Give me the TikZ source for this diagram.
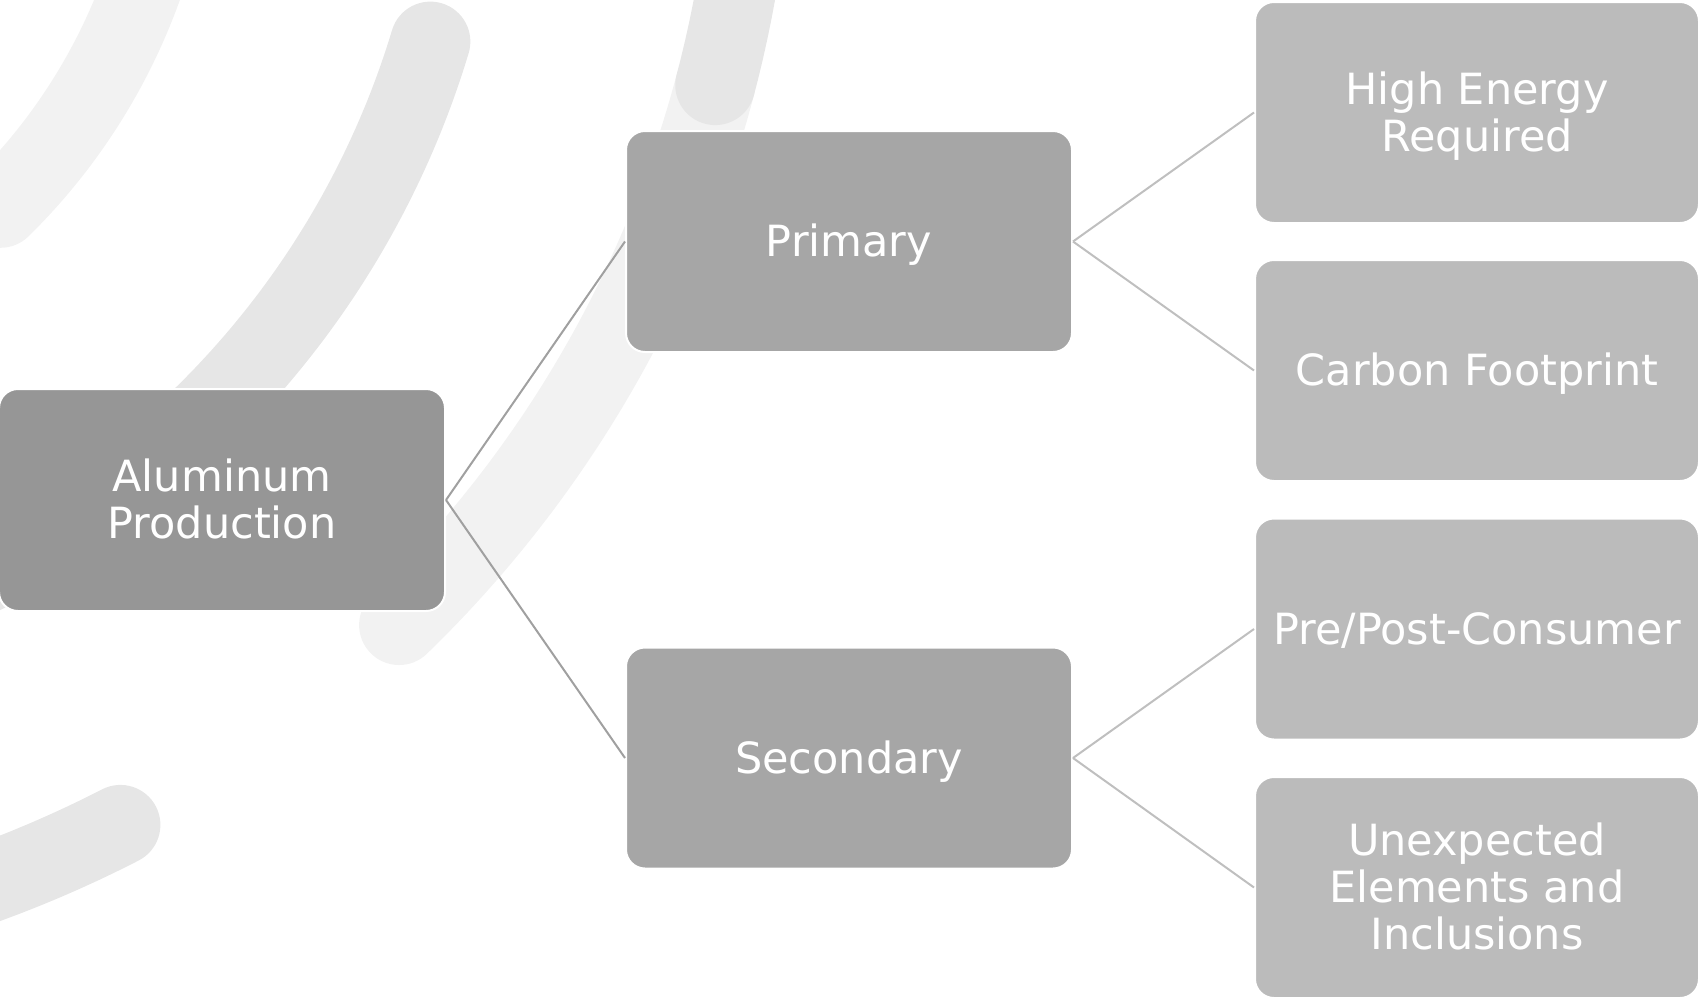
\documentclass[tikz,border=0pt]{standalone}
\usepackage{fontspec}
\setmainfont{DejaVu Sans}
\definecolor{arcLight}{HTML}{F2F2F2}
\definecolor{arcDark}{HTML}{E6E6E6}
\definecolor{rootFill}{HTML}{969696}
\definecolor{midFill}{HTML}{A6A6A6}
\definecolor{leafFill}{HTML}{BBBBBB}
\definecolor{lineA}{HTML}{A0A0A0}
\definecolor{lineB}{HTML}{BFBFBF}
\newcommand{\lowtext}[1]{\raisebox{-6pt}[\height][\depth]{\begin{tabular}{@{}c@{}}#1\end{tabular}}}
\tikzset{
  band/.style={line width=80pt, line cap=round},
  boxbase/.style={rectangle, rounded corners=19pt, draw=white, line width=2pt,
    text=white, align=center, inner sep=0pt,
    font=\fontsize{43}{47}\selectfont},
  rootbox/.style={boxbase, fill=rootFill, minimum width=446pt, minimum height=222pt},
  midbox/.style={boxbase, fill=midFill, minimum width=446pt, minimum height=221pt},
  leafbox/.style={boxbase, fill=leafFill, minimum width=444pt, minimum height=221pt},
  linkA/.style={draw=lineA, line width=2pt},
  linkB/.style={draw=lineB, line width=2pt}
}
\begin{document}
\begin{tikzpicture}[x=1pt,y=-1pt]
\useasboundingbox (0,0) rectangle (1699,999);
\begin{scope}
\clip (0,0) rectangle (1699,999);
% background bands: concentric arcs around (-413,-213)
\draw[band, arcLight] plot[domain=5:45.5, samples=60] ({-413+590*cos(\x)}, {-213+590*sin(\x)});
\draw[band, arcDark] plot[domain=16.8:68, samples=80] ({-413+881*cos(\x)}, {-213+881*sin(\x)});
\draw[band, arcLight] plot[domain=14.8:45.9, samples=80] ({-413+1167*cos(\x)}, {-213+1167*sin(\x)});
\draw[band, arcDark] plot[domain=4:14.8, samples=30] ({-413+1167*cos(\x)}, {-213+1167*sin(\x)});
\draw[band, arcDark] plot[domain=62.8:76, samples=40] ({-413+1167*cos(\x)}, {-213+1167*sin(\x)});
\end{scope}
% nodes
\node[rootbox] (root) at (222,500) {\lowtext{Aluminum\\Production}};
\node[midbox] (prim) at (849,241.5) {\lowtext{Primary}};
\node[midbox] (sec) at (849,758) {\lowtext{Secondary}};
\node[leafbox] (l1) at (1477,112.5) {\lowtext{High Energy\\Required}};
\node[leafbox] (l2) at (1477,370.5) {\lowtext{Carbon Footprint}};
\node[leafbox] (l3) at (1477,629) {\lowtext{Pre/Post-Consumer}};
\node[leafbox] (l4) at (1477,887.5) {\lowtext{Unexpected\\Elements and\\Inclusions}};
% connectors
\draw[linkA] (root.east) -- (prim.west);
\draw[linkA] (root.east) -- (sec.west);
\draw[linkB] (prim.east) -- (l1.west);
\draw[linkB] (prim.east) -- (l2.west);
\draw[linkB] (sec.east) -- (l3.west);
\draw[linkB] (sec.east) -- (l4.west);
\end{tikzpicture}
\end{document}
